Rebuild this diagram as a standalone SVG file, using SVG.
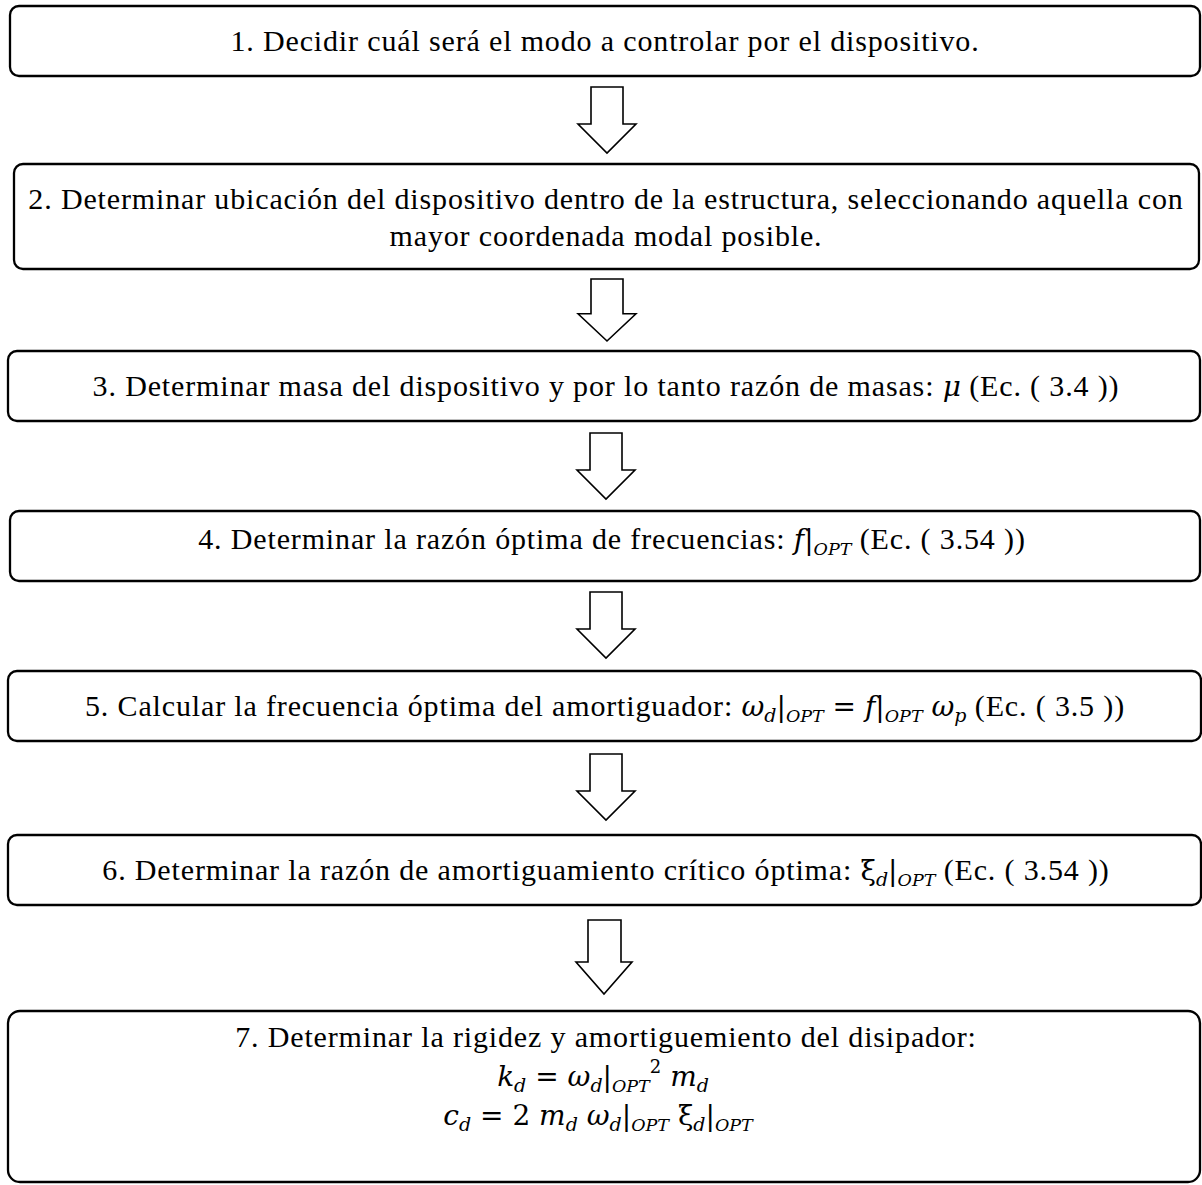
<svg xmlns="http://www.w3.org/2000/svg" xmlns:xlink="http://www.w3.org/1999/xlink" width="1202" height="1185" viewBox="0 0 1202 1185">
<style>
.box{fill:#fff;stroke:#000;stroke-width:2.3}
.arr{fill:#fff;stroke:#000;stroke-width:1.6;stroke-linejoin:miter}
text{font-family:'Liberation Serif','DejaVu Serif',serif;font-size:30px;letter-spacing:0.85px;fill:#000}
.m{font-family:'DejaVu Serif',serif;font-style:italic;font-size:28px;letter-spacing:0}
.u{font-family:'DejaVu Serif',serif;font-size:28px;letter-spacing:0}
.s{font-family:'DejaVu Serif',serif;font-style:italic;font-size:19px;letter-spacing:0}
.o{font-family:'DejaVu Serif',serif;font-style:italic;font-size:17.5px;letter-spacing:0}
.p{font-family:'DejaVu Serif',serif;font-size:18px;letter-spacing:0}
</style>
<defs>
<path id="arrow" d="M-16,0 H16 V37 H29 L0,66 L-29,37 H-16 Z"/>
</defs>
<rect width="1202" height="1185" fill="#fff"/>
<g id="connectors">
<use xlink:href="#arrow" class="arr" transform="translate(607,87)"/>
<use xlink:href="#arrow" class="arr" transform="translate(607,279) scale(1,0.94)"/>
<use xlink:href="#arrow" class="arr" transform="translate(606,433)"/>
<use xlink:href="#arrow" class="arr" transform="translate(606,592)"/>
<use xlink:href="#arrow" class="arr" transform="translate(606,754)"/>
<path class="arr" d="M588,920 H621 V962 H632 L604,994 L576,962 H588 Z"/>
</g>
<g id="step1">
<rect class="box" x="10" y="6" width="1190" height="70" rx="9"/>
<text x="605" y="51" text-anchor="middle">1. Decidir cuál será el modo a controlar por el dispositivo.</text>
</g>
<g id="step2">
<rect class="box" x="14" y="164" width="1185" height="105" rx="9"/>
<text x="606" y="209" text-anchor="middle">2. Determinar ubicación del dispositivo dentro de la estructura, seleccionando aquella con</text>
<text x="606" y="246" text-anchor="middle">mayor coordenada modal posible.</text>
</g>
<g id="step3">
<rect class="box" x="8" y="351" width="1192" height="70" rx="9"/>
<text x="606" y="396" text-anchor="middle">3. Determinar masa del dispositivo y por lo tanto razón de masas: <tspan class="m">μ</tspan> (Ec. ( 3.4 ))</text>
</g>
<g id="step4">
<rect class="box" x="10" y="511" width="1190" height="70" rx="9"/>
<text x="612" y="549" text-anchor="middle">4. Determinar la razón óptima de frecuencias: <tspan class="m">f</tspan><tspan class="u">|</tspan><tspan class="o" dy="6">OPT</tspan><tspan dy="-6"> (Ec. ( 3.54 ))</tspan></text>
</g>
<g id="step5">
<rect class="box" x="8" y="671" width="1193" height="70" rx="9"/>
<text x="605" y="716" text-anchor="middle">5. Calcular la frecuencia óptima del amortiguador: <tspan class="m">ω</tspan><tspan class="s" dy="6">d</tspan><tspan class="u" dy="-6">|</tspan><tspan class="o" dy="6">OPT</tspan><tspan class="u" dy="-6"> = </tspan><tspan class="m">f</tspan><tspan class="u">|</tspan><tspan class="o" dy="6">OPT</tspan><tspan class="u" dy="-6"> </tspan><tspan class="m">ω</tspan><tspan class="s" dy="6">p</tspan><tspan dy="-6"> (Ec. ( 3.5 ))</tspan></text>
</g>
<g id="step6">
<rect class="box" x="8" y="835" width="1193" height="70" rx="9"/>
<text x="606" y="880" text-anchor="middle">6. Determinar la razón de amortiguamiento crítico óptima: <tspan class="u">ξ</tspan><tspan class="s" dy="6">d</tspan><tspan class="u" dy="-6">|</tspan><tspan class="o" dy="6">OPT</tspan><tspan dy="-6"> (Ec. ( 3.54 ))</tspan></text>
</g>
<g id="step7">
<rect class="box" x="8" y="1011" width="1192" height="171" rx="12"/>
<text x="606" y="1047" text-anchor="middle">7. Determinar la rigidez y amortiguemiento del disipador:</text>
<text x="603" y="1086" text-anchor="middle"><tspan class="m">k</tspan><tspan class="s" dy="6">d</tspan><tspan class="u" dy="-6"> = </tspan><tspan class="m">ω</tspan><tspan class="s" dy="6">d</tspan><tspan class="u" dy="-6">|</tspan><tspan class="o" dy="6">OPT</tspan><tspan class="p" dy="-19">2</tspan><tspan class="u" dy="13"> </tspan><tspan class="m">m</tspan><tspan class="s" dy="6">d</tspan></text>
<text x="598" y="1125" text-anchor="middle"><tspan class="m">c</tspan><tspan class="s" dy="6">d</tspan><tspan class="u" dy="-6"> = 2 </tspan><tspan class="m">m</tspan><tspan class="s" dy="6">d</tspan><tspan class="u" dy="-6"> </tspan><tspan class="m">ω</tspan><tspan class="s" dy="6">d</tspan><tspan class="u" dy="-6">|</tspan><tspan class="o" dy="6">OPT</tspan><tspan class="u" dy="-6"> ξ</tspan><tspan class="s" dy="6">d</tspan><tspan class="u" dy="-6">|</tspan><tspan class="o" dy="6">OPT</tspan></text>
</g>
</svg>
